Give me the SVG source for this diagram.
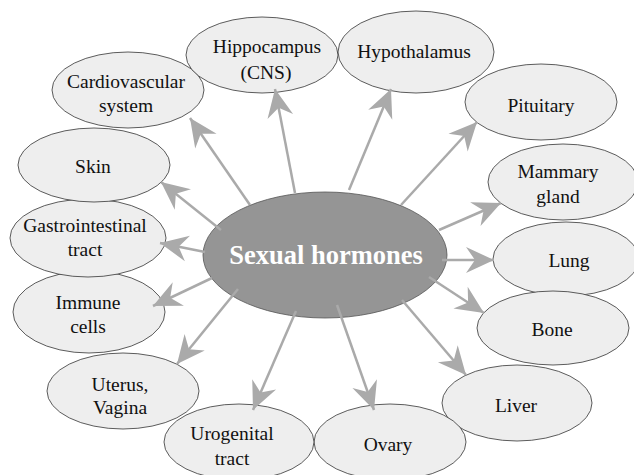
<svg xmlns="http://www.w3.org/2000/svg" width="634" height="475" viewBox="0 0 634 475" font-family="'Liberation Serif', 'Times New Roman', serif">
<style>
.n{fill:#eeeeee;stroke:#333333;stroke-width:0.8}
.t{font-size:19.5px;fill:#111111;text-anchor:middle}
.c{stroke:#aaaaaa;stroke-width:2.5;fill:none;marker-end:url(#ah)}
</style>
<defs>
<marker id="ah" markerUnits="userSpaceOnUse" viewBox="-29 -14 31 28" refX="0" refY="0" markerWidth="31" markerHeight="28" orient="auto">
<path d="M0,0 L-28,-13 L-19,0 L-28,13 Z" fill="#aaaaaa"/>
</marker>
</defs>
<rect width="634" height="475" fill="#ffffff"/>
<g id="center">
<ellipse cx="325" cy="255" rx="122" ry="63" fill="#959595" stroke="#555555" stroke-width="0.8"/>
<text x="326" y="264" font-size="26.5" font-weight="bold" fill="#ffffff" text-anchor="middle">Sexual hormones</text>
</g>
<g id="cardiovascular"><ellipse class="n" cx="128" cy="90" rx="76" ry="38"/><text class="t" x="126" y="88">Cardiovascular</text><text class="t" x="126" y="112">system</text></g>
<g id="hippocampus"><ellipse class="n" cx="262" cy="55" rx="76" ry="38"/><text class="t" x="267" y="53">Hippocampus</text><text class="t" x="266" y="79">(CNS)</text></g>
<g id="hypothalamus"><ellipse class="n" cx="416" cy="52" rx="78" ry="41"/><text class="t" x="414" y="58">Hypothalamus</text></g>
<g id="pituitary"><ellipse class="n" cx="541" cy="102" rx="76" ry="38"/><text class="t" x="541" y="112">Pituitary</text></g>
<g id="mammary"><ellipse class="n" cx="563" cy="182" rx="75" ry="38"/><text class="t" x="558" y="178">Mammary</text><text class="t" x="558" y="203">gland</text></g>
<g id="lung"><ellipse class="n" cx="566" cy="259" rx="73" ry="37"/><text class="t" x="569" y="267">Lung</text></g>
<g id="bone"><ellipse class="n" cx="553" cy="328" rx="76" ry="37"/><text class="t" x="552" y="336">Bone</text></g>
<g id="liver"><ellipse class="n" cx="517" cy="403" rx="75" ry="38"/><text class="t" x="516" y="412">Liver</text></g>
<g id="ovary"><ellipse class="n" cx="390" cy="442" rx="76" ry="38"/><text class="t" x="388" y="451">Ovary</text></g>
<g id="urogenital"><ellipse class="n" cx="239" cy="442" rx="75" ry="38"/><text class="t" x="232" y="440">Urogenital</text><text class="t" x="232" y="465">tract</text></g>
<g id="uterus"><ellipse class="n" cx="123" cy="391" rx="76" ry="38"/><text class="t" x="120" y="391">Uterus,</text><text class="t" x="120" y="414">Vagina</text></g>
<g id="immune"><ellipse class="n" cx="89" cy="312" rx="76" ry="41"/><text class="t" x="88" y="309">Immune</text><text class="t" x="88" y="333">cells</text></g>
<g id="gastro"><ellipse class="n" cx="88" cy="238" rx="78" ry="39"/><text class="t" x="85" y="232">Gastrointestinal</text><text class="t" x="85" y="256">tract</text></g>
<g id="skin"><ellipse class="n" cx="94" cy="165" rx="76" ry="37"/><text class="t" x="93" y="173">Skin</text></g>
<g id="connectors">
<line class="c" x1="250" y1="205" x2="190" y2="118"/>
<line class="c" x1="295" y1="193" x2="275" y2="89"/>
<line class="c" x1="349" y1="190" x2="391" y2="89"/>
<line class="c" x1="401" y1="205" x2="477" y2="122"/>
<line class="c" x1="439" y1="230" x2="501" y2="203"/>
<line class="c" x1="442" y1="260" x2="494" y2="260"/>
<line class="c" x1="429" y1="277" x2="484" y2="313"/>
<line class="c" x1="402" y1="300" x2="466" y2="375"/>
<line class="c" x1="337" y1="305" x2="374" y2="410"/>
<line class="c" x1="296" y1="311" x2="253" y2="410"/>
<line class="c" x1="238" y1="289" x2="177" y2="364"/>
<line class="c" x1="212" y1="278" x2="153" y2="306"/>
<line class="c" x1="205" y1="252" x2="160" y2="243"/>
<line class="c" x1="221" y1="230" x2="161" y2="182"/>
</g>
</svg>
